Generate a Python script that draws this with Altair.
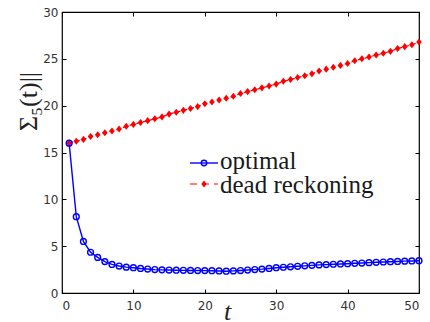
import altair as alt
import pandas as pd

t_vals = list(range(1, 51))
optimal = [16.0, 8.15, 5.5, 4.35, 3.8, 3.35, 3.05, 2.88, 2.76, 2.7,
           2.62, 2.56, 2.5, 2.47, 2.45, 2.43, 2.42, 2.41, 2.4, 2.39,
           2.38, 2.35, 2.33, 2.36, 2.4, 2.45, 2.5, 2.55, 2.62, 2.7,
           2.75, 2.8, 2.85, 2.9, 2.95, 3.0, 3.03, 3.07, 3.1, 3.13,
           3.17, 3.2, 3.24, 3.28, 3.31, 3.34, 3.37, 3.4, 3.42, 3.45]
dead_reckoning = [16.0, 16.2, 16.4, 16.7, 16.9, 17.1, 17.3, 17.5, 17.8, 18.0,
                  18.2, 18.4, 18.6, 18.8, 19.1, 19.3, 19.5, 19.7, 19.9, 20.2,
                  20.4, 20.6, 20.8, 21.0, 21.3, 21.5, 21.7, 21.9, 22.1, 22.3,
                  22.6, 22.8, 23.0, 23.2, 23.4, 23.7, 23.9, 24.1, 24.3, 24.5,
                  24.8, 25.0, 25.2, 25.4, 25.6, 25.8, 26.1, 26.3, 26.5, 26.8]
series_names = ["optimal", "dead reckoning"]
x_ticks = [0, 10, 20, 30, 40, 50]
y_ticks = [0, 5, 10, 15, 20, 25, 30]

df_opt = pd.DataFrame({"t": t_vals, "v": optimal})
df_dead = pd.DataFrame({"t": t_vals, "v": dead_reckoning})

xs = alt.Scale(domain=[0, 50], nice=False, zero=False)
ys = alt.Scale(domain=[0, 30], nice=False, zero=False)

LABEL = dict(labelFont="DejaVu Sans", labelFontSize=12, labelColor="#333333",
             ticks=False, tickSize=0, domain=False, grid=False)

x_main = alt.X("t:Q", scale=xs, axis=alt.Axis(
    values=x_ticks, title="t", labelPadding=7, titleFont="Liberation Serif",
    titleFontStyle="italic", titleFontWeight="normal", titleFontSize=26,
    titleColor="#222222", titleX=165, titleY=26, titleAlign="center",
    titleBaseline="alphabetic", **LABEL))
y_main = alt.Y("v:Q", scale=ys, axis=alt.Axis(
    values=y_ticks, title="Σ₅(t)||", labelPadding=4, titleFont="Liberation Serif",
    titleFontWeight="normal", titleFontSize=26, titleColor="#222222",
    titleAngle=270, titleX=-34, titleY=89, titleAlign="center",
    titleBaseline="middle", **LABEL))

BLUE = "#0000FF"
RED = "#FF0000"

line_opt = alt.Chart(df_opt).mark_line(color=BLUE, strokeWidth=1.4).encode(x=x_main, y=y_main)
pts_opt = alt.Chart(df_opt).mark_point(shape="circle", filled=False, color=BLUE, size=34,
                                        strokeWidth=1.4, opacity=1).encode(
    x=alt.X("t:Q", scale=xs, axis=None), y=alt.Y("v:Q", scale=ys, axis=None))
line_dead = alt.Chart(df_dead).mark_line(color=RED, strokeWidth=1.2, strokeDash=[4, 3]).encode(
    x=alt.X("t:Q", scale=xs, axis=None), y=alt.Y("v:Q", scale=ys, axis=None))
DIAMOND = "M-0.8,0L0,-1L0.8,0L0,1Z"
pts_dead = alt.Chart(df_dead).mark_point(shape=DIAMOND, filled=True, color=RED, size=50,
                                          opacity=1).encode(
    x=alt.X("t:Q", scale=xs, axis=None), y=alt.Y("v:Q", scale=ys, axis=None))

TICK = dict(labels=False, domain=False, grid=False, ticks=True, tickSize=4, offset=-4,
            tickColor="#000000", tickWidth=1, title=None)


def tick_layer(xo, yo):
    return alt.Chart(df_opt).mark_point(opacity=0).encode(
        x=alt.X("t:Q", scale=xs, axis=alt.Axis(orient=xo, values=x_ticks, **TICK)),
        y=alt.Y("v:Q", scale=ys, axis=alt.Axis(orient=yo, values=y_ticks, **TICK)))


ticks_a = tick_layer("bottom", "left")
ticks_b = tick_layer("top", "right")

# legend (inside plot area)
df_leg = pd.DataFrame({"s": series_names})
leg_y = [151, 172]
leg_line_x = (128, 156)
leg_marker_x = 142
leg_text_x = 158

leg_line_opt = alt.Chart(df_leg.iloc[[0]]).mark_rule(color=BLUE, strokeWidth=1.4).encode(
    x=alt.value(leg_line_x[0]), x2=alt.value(leg_line_x[1]), y=alt.value(leg_y[0]))
leg_pt_opt = alt.Chart(df_leg.iloc[[0]]).mark_point(shape="circle", filled=False, color=BLUE,
                                                     size=30, strokeWidth=1.4, opacity=1).encode(
    x=alt.value(leg_marker_x), y=alt.value(leg_y[0]))
leg_line_dead = alt.Chart(df_leg.iloc[[1]]).mark_rule(color=RED, strokeWidth=1.2,
                                                       strokeDash=[7, 5]).encode(
    x=alt.value(leg_line_x[0]), x2=alt.value(leg_line_x[1]), y=alt.value(leg_y[1]))
leg_pt_dead = alt.Chart(df_leg.iloc[[1]]).mark_point(shape=DIAMOND, filled=True, color=RED,
                                                      size=46, opacity=1).encode(
    x=alt.value(leg_marker_x), y=alt.value(leg_y[1]))
leg_txt_opt = alt.Chart(df_leg.iloc[[0]]).mark_text(
    font="Liberation Serif", fontSize=25, align="left", baseline="alphabetic",
    color="#1a1a1a").encode(x=alt.value(leg_text_x), y=alt.value(leg_y[0] + 6), text="s:N")
leg_txt_dead = alt.Chart(df_leg.iloc[[1]]).mark_text(
    font="Liberation Serif", fontSize=25, align="left", baseline="alphabetic",
    color="#1a1a1a").encode(x=alt.value(leg_text_x), y=alt.value(leg_y[1] + 9), text="s:N")

chart = alt.layer(
    line_opt, ticks_a, ticks_b, line_dead, pts_dead, pts_opt,
    leg_line_opt, leg_pt_opt, leg_line_dead, leg_pt_dead, leg_txt_opt, leg_txt_dead
).resolve_axis(x="independent", y="independent").properties(
    width=357, height=281,
    autosize=alt.AutoSizeParams(type="none"),
    padding={"left": 62, "top": 12, "right": 11, "bottom": 29},
    background="white",
).configure_view(stroke="#000000", strokeWidth=1.2)

chart.save("out.html", embed_options={"renderer": "svg", "actions": False})
